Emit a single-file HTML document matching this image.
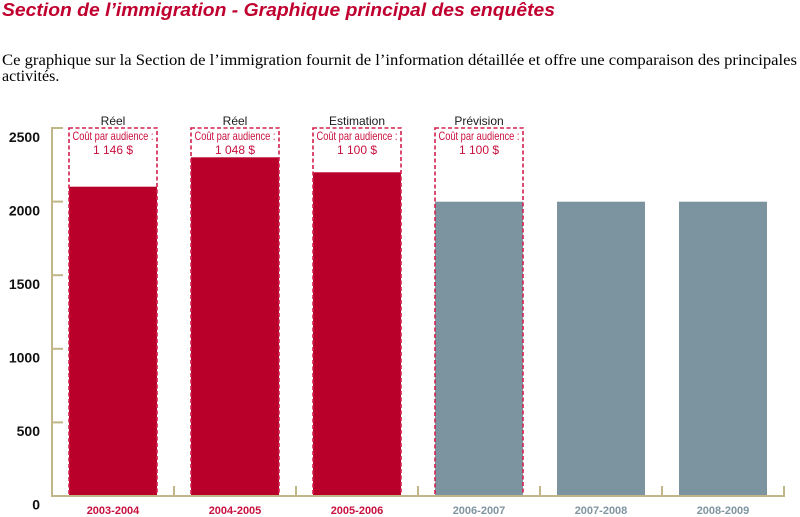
<!DOCTYPE html>
<html>
<head>
<meta charset="utf-8">
<style>
html,body{margin:0;padding:0;background:#fff;}
body{width:800px;height:517px;overflow:hidden;}
svg{display:block;}
</style>
</head>
<body>
<svg width="800" height="517" viewBox="0 0 800 517" xmlns="http://www.w3.org/2000/svg">
  <!-- Title -->
  <text x="2" y="16" font-family="Liberation Sans, Arial, sans-serif" font-size="18.5" font-weight="bold" font-style="italic" fill="#c0002f" textLength="553" lengthAdjust="spacingAndGlyphs">Section de l’immigration - Graphique principal des enquêtes</text>
  <!-- Paragraph -->
  <text x="2" y="65" font-family="Liberation Serif, Times New Roman, serif" font-size="16" fill="#000" textLength="795" lengthAdjust="spacingAndGlyphs">Ce graphique sur la Section de l’immigration fournit de l’information détaillée et offre une comparaison des principales</text>
  <text x="2" y="81" font-family="Liberation Serif, Times New Roman, serif" font-size="16" fill="#000">activités.</text>

  <!-- Bars -->
  <rect x="69" y="186.7" width="88" height="309.3" fill="#b8002b"/>
  <rect x="191" y="157.3" width="88" height="338.7" fill="#b8002b"/>
  <rect x="313" y="172.3" width="88" height="323.7" fill="#b8002b"/>
  <rect x="435" y="201.7" width="88" height="294.3" fill="#7b949f"/>
  <rect x="557" y="201.7" width="88" height="294.3" fill="#7b949f"/>
  <rect x="679" y="201.7" width="88" height="294.3" fill="#7b949f"/>

  <!-- Dashed boxes -->
  <g fill="none" stroke="#d3204e" stroke-width="1.6" stroke-dasharray="4,2.5">
    <rect x="69" y="128" width="88" height="368"/>
    <rect x="191" y="128" width="88" height="368"/>
    <rect x="313" y="128" width="88" height="368"/>
    <rect x="435" y="128" width="88" height="368"/>
  </g>

  <!-- Axes -->
  <g stroke="#c0b688" stroke-width="2" fill="none">
    <line x1="52" y1="127" x2="52" y2="497"/>
    <line x1="51" y1="496" x2="785" y2="496"/>
    <line x1="52" y1="128" x2="63" y2="128"/>
    <line x1="52" y1="201.6" x2="63" y2="201.6"/>
    <line x1="52" y1="275.2" x2="63" y2="275.2"/>
    <line x1="52" y1="348.8" x2="63" y2="348.8"/>
    <line x1="52" y1="422.4" x2="63" y2="422.4"/>
    <line x1="174" y1="486" x2="174" y2="496"/>
    <line x1="296" y1="486" x2="296" y2="496"/>
    <line x1="418" y1="486" x2="418" y2="496"/>
    <line x1="540" y1="486" x2="540" y2="496"/>
    <line x1="662" y1="486" x2="662" y2="496"/>
    <line x1="784" y1="486" x2="784" y2="496"/>
  </g>

  <!-- Y labels -->
  <g font-family="Liberation Sans, Arial, sans-serif" font-size="14" font-weight="bold" fill="#111" text-anchor="end">
    <text x="40" y="142">2500</text>
    <text x="40" y="215.5">2000</text>
    <text x="40" y="289">1500</text>
    <text x="40" y="362.5">1000</text>
    <text x="40" y="436">500</text>
    <text x="40" y="509.5">0</text>
  </g>

  <!-- X labels -->
  <g font-family="Liberation Sans, Arial, sans-serif" font-size="11" font-weight="bold" text-anchor="middle">
    <text x="113" y="514" fill="#c8103e">2003-2004</text>
    <text x="235" y="514" fill="#c8103e">2004-2005</text>
    <text x="357" y="514" fill="#c8103e">2005-2006</text>
    <text x="479" y="514" fill="#7f959f">2006-2007</text>
    <text x="601" y="514" fill="#7f959f">2007-2008</text>
    <text x="723" y="514" fill="#7f959f">2008-2009</text>
  </g>

  <!-- Top labels -->
  <g font-family="Liberation Sans, Arial, sans-serif" font-size="12" fill="#1a1a1a" text-anchor="middle">
    <text x="113" y="125">Réel</text>
    <text x="235" y="125">Réel</text>
    <text x="357" y="125" textLength="56" lengthAdjust="spacingAndGlyphs">Estimation</text>
    <text x="479" y="125">Prévision</text>
  </g>
  <g font-family="Liberation Sans, Arial, sans-serif" font-size="12" fill="#c8103e" text-anchor="middle">
    <text x="113" y="140" textLength="81" lengthAdjust="spacingAndGlyphs">Coût par audience :</text>
    <text x="235" y="140" textLength="81" lengthAdjust="spacingAndGlyphs">Coût par audience :</text>
    <text x="357" y="140" textLength="81" lengthAdjust="spacingAndGlyphs">Coût par audience :</text>
    <text x="479" y="140" textLength="81" lengthAdjust="spacingAndGlyphs">Coût par audience :</text>
    <text x="113" y="154">1 146 $</text>
    <text x="235" y="154">1 048 $</text>
    <text x="357" y="154">1 100 $</text>
    <text x="479" y="154">1 100 $</text>
  </g>
</svg>
</body>
</html>
